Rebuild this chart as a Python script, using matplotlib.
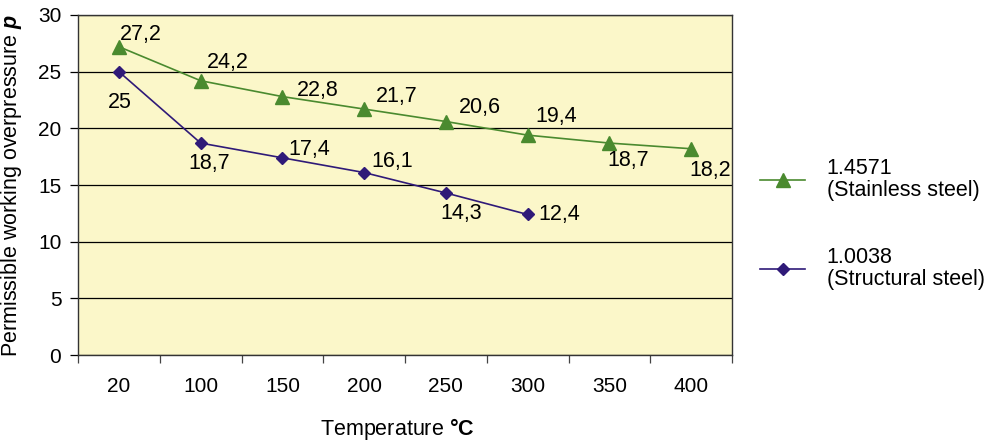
import matplotlib.pyplot as plt
import numpy as np

plt.rcParams['font.family'] = ['Liberation Sans', 'DejaVu Sans']
plt.rcParams['mathtext.fontset'] = 'custom'
plt.rcParams['mathtext.rm'] = 'Liberation Sans'
plt.rcParams['mathtext.bf'] = 'Liberation Sans:bold'
plt.rcParams['mathtext.it'] = 'Liberation Sans:italic'
plt.rcParams['mathtext.bfit'] = 'Liberation Sans:bold:italic'

# data
temps = ['20', '100', '150', '200', '250', '300', '350', '400']
stainless = [27.2, 24.2, 22.8, 21.7, 20.6, 19.4, 18.7, 18.2]
structural = [25, 18.7, 17.4, 16.1, 14.3, 12.4]
stainless_label = '1.4571\n(Stainless steel)'
structural_label = '1.0038\n(Structural steel)'

green = '#4a8a2f'
purple = '#2f1a78'
fs = 15.5

fig = plt.figure(figsize=(9.9, 4.4), dpi=100)
ax = fig.add_axes([0.0788, 0.193, 0.6606, 0.773])
ax.set_facecolor('#fbf7c9')

x = np.arange(len(temps))
ax.plot(x, stainless, color=green, lw=1.2, marker='^', ms=9.5,
        label=stainless_label, zorder=3)
ax.plot(x[:len(structural)], structural, color=purple, lw=1.2, marker='D',
        ms=6.5, label=structural_label, zorder=3)

# label offsets in pixels (dx, dy)
off_g = [(22, 12), (27, 18), (35, 6), (33, 13), (34, 14), (29, 19), (19, -17), (19, -22)]
off_p = [(1, -31), (9, -20), (27, 8), (28, 11), (15, -21), (32, 0)]
for i, v in enumerate(stainless):
    ax.annotate(f'{v:g}'.replace('.', ','), (x[i], v), textcoords='offset pixels',
                xytext=off_g[i], ha='center', va='center', fontsize=fs)
for i, v in enumerate(structural):
    ax.annotate(f'{v:g}'.replace('.', ','), (x[i], v), textcoords='offset pixels',
                xytext=off_p[i], ha='center', va='center', fontsize=fs)

ax.set_xlim(-0.5, len(temps) - 0.5)
ax.set_ylim(0, 30)
ax.set_yticks(np.arange(0, 31, 5))
ax.yaxis.grid(True, color='black', lw=0.9)
ax.set_axisbelow(True)
ax.set_xticks(np.arange(-0.5, len(temps), 1))
ax.set_xticklabels([])
ax.set_xticks(x, minor=True)
ax.set_xticklabels(temps, minor=True)
ax.tick_params(axis='x', which='major', length=6, width=0.9, color='#444444')
ax.tick_params(axis='x', which='minor', length=0, pad=16, labelsize=15)
ax.tick_params(axis='y', length=6, width=0.9, labelsize=15, pad=6)
for s in ax.spines.values():
    s.set_color('#333333')
    s.set_linewidth(1.0)

ax.set_xlabel('Temperature $\\mathbf{°C}$', fontsize=fs)
ax.xaxis.set_label_coords(0.488, -0.178)
ax.set_ylabel('Permissible working overpressure $\\mathbfit{p}$', fontsize=fs)
ax.yaxis.set_label_coords(-0.083, 0.5)

leg = fig.legend(loc='center left', bbox_to_anchor=(0.759, 0.491), frameon=False,
                 fontsize=fs, handlelength=2.1, handletextpad=1.0, labelspacing=2.13,
                 borderaxespad=0)
for t in leg.get_texts():
    t.set_linespacing(1.05)

fig.savefig('out.png', dpi=100)
